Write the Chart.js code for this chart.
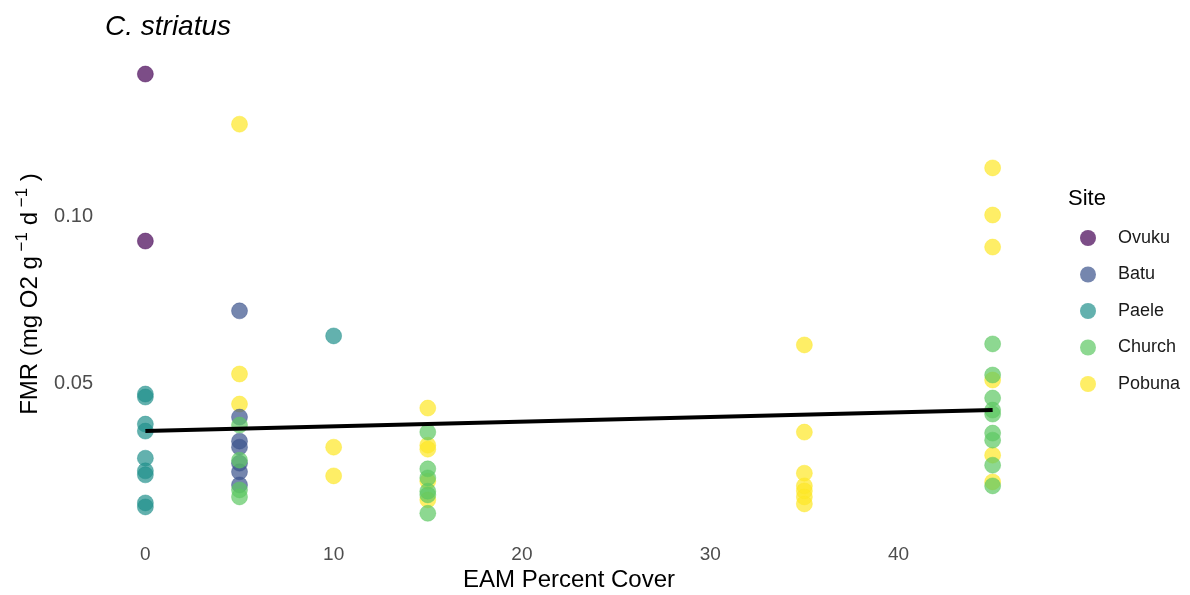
<!DOCTYPE html>
<html>
<head>
<meta charset="utf-8">
<title>C. striatus FMR vs EAM cover</title>
<script src="https://cdn.jsdelivr.net/npm/chart.js@4.4.1/dist/chart.umd.min.js"></script>
<style>
  html, body { margin: 0; padding: 0; background: #ffffff; }
  #wrap { width: 1190px; height: 595px; position: relative; }
</style>
</head>
<body>
<div id="wrap"><canvas id="chart" width="1190" height="595"></canvas></div>
<script>
// Sites in legend order
const sites = ["Ovuku", "Batu", "Paele", "Church", "Pobuna"];
const siteColors = ["rgba(68,1,84,0.7)", "rgba(59,82,139,0.7)", "rgba(33,144,140,0.7)", "rgba(93,200,99,0.7)", "rgba(253,231,37,0.7)"];

// EAM percent cover (x) and FMR (y) per site
const ovukuX = [0, 0];
const ovukuY = [0.1425, 0.0925];

const batuX = [5, 5, 5, 5, 5, 5, 5];
const batuY = [0.0716, 0.0398, 0.0326, 0.0308, 0.0260, 0.0234, 0.0195];

const paeleX = [0, 0, 0, 0, 0, 0, 0, 0, 0, 10];
const paeleY = [0.0467, 0.0458, 0.0377, 0.0356, 0.0275, 0.0237, 0.0225, 0.0141, 0.0129, 0.0641];

const churchX = [5, 5, 5, 5, 15, 15, 15, 15, 15, 15, 45, 45, 45, 45, 45, 45, 45, 45, 45];
const churchY = [0.0374, 0.0269, 0.0180, 0.0159,
                 0.0353, 0.0243, 0.0216, 0.0176, 0.0165, 0.0110,
                 0.0617, 0.0524, 0.0455, 0.0419, 0.0407, 0.0350, 0.0329, 0.0254, 0.0192];

const pobunaX = [5, 5, 5, 10, 10, 15, 15, 15, 15, 15, 35, 35, 35, 35, 35, 35, 35, 45, 45, 45, 45, 45, 45];
const pobunaY = [0.1275, 0.0527, 0.0437, 0.0308, 0.0222,
                 0.0425, 0.0314, 0.0302, 0.0206, 0.0150,
                 0.0614, 0.0353, 0.0230, 0.0192, 0.0177, 0.0159, 0.0138,
                 0.1144, 0.1003, 0.0907, 0.0509, 0.0284, 0.0204];

// Fitted linear trend (endpoints of the fit line)
const fitX = [0, 45];
const fitY = [0.0356, 0.0419];

// Axis ticks
const xTicks = [0, 10, 20, 30, 40];
const yTicks = [0.05, 0.10];
const yTickLabels = ["0.05", "0.10"];

const xs = [ovukuX, batuX, paeleX, churchX, pobunaX];
const ys = [ovukuY, batuY, paeleY, churchY, pobunaY];
// Stacking order of the point layers (lower = drawn on top)
const layerOrder = [4, 3, 2, 1, 5];

const pts = (X, Y) => X.map((x, i) => ({ x: x, y: Y[i] }));

const datasets = [{
  type: "line",
  label: "fit",
  data: pts(fitX, fitY),
  borderColor: "#000000",
  borderWidth: 4,
  pointRadius: 0,
  fill: false,
  order: 0
}];
sites.forEach((s, i) => {
  datasets.push({
    type: "scatter",
    label: s,
    data: pts(xs[i], ys[i]),
    backgroundColor: siteColors[i],
    borderColor: siteColors[i],
    borderWidth: 0.6,
    pointRadius: 8,
    order: layerOrder[i]
  });
});

const FONT = "'Liberation Sans', Arial, sans-serif";

// Titles, axis titles and the site legend
const decor = {
  id: "decor",
  afterDraw(chart) {
    const ctx = chart.ctx;
    const a = chart.chartArea;
    ctx.save();
    ctx.fillStyle = "#000000";

    // Plot title
    ctx.font = "italic 28px " + FONT;
    ctx.textAlign = "left";
    ctx.textBaseline = "alphabetic";
    ctx.fillText("C. striatus", 105, 35);

    // X axis title
    ctx.font = "24px " + FONT;
    ctx.textAlign = "center";
    ctx.textBaseline = "middle";
    ctx.fillText("EAM Percent Cover", (a.left + a.right) / 2, 580);

    // Y axis title with superscripts, rotated
    const parts = [
      ["FMR (mg O2 g", false], [" \u22121", true], [" d", false], [" \u22121", true], [" )", false]
    ];
    const big = "24px " + FONT, small = "17px " + FONT;
    let total = 0;
    parts.forEach(p => { ctx.font = p[1] ? small : big; total += ctx.measureText(p[0]).width; });
    ctx.translate(28, (a.top + a.bottom) / 2);
    ctx.rotate(-Math.PI / 2);
    ctx.textAlign = "left";
    ctx.textBaseline = "alphabetic";
    let cx = -total / 2;
    parts.forEach(p => {
      ctx.font = p[1] ? small : big;
      ctx.fillText(p[0], cx, p[1] ? -1 : 9);
      cx += ctx.measureText(p[0]).width;
    });
    ctx.setTransform(1, 0, 0, 1, 0, 0);

    // Legend
    ctx.textAlign = "left";
    ctx.textBaseline = "middle";
    ctx.font = "22px " + FONT;
    ctx.fillStyle = "#000000";
    ctx.fillText("Site", 1068, 199);
    ctx.font = "18px " + FONT;
    sites.forEach((s, i) => {
      const y = 238 + i * 36.5;
      ctx.beginPath();
      ctx.arc(1088, y, 8, 0, Math.PI * 2);
      ctx.fillStyle = siteColors[i];
      ctx.fill();
      ctx.fillStyle = "#1a1a1a";
      ctx.fillText(s, 1118, y);
    });
    ctx.restore();
  }
};

new Chart(document.getElementById("chart"), {
  data: { datasets: datasets },
  options: {
    responsive: false,
    animation: false,
    layout: { padding: { top: 52, right: 155, left: 0, bottom: 0 } },
    plugins: { legend: { display: false }, tooltip: { enabled: false } },
    scales: {
      x: {
        type: "linear",
        min: -2.25,
        max: 47.25,
        grid: { display: false, drawTicks: false },
        border: { display: false },
        afterBuildTicks: (s) => { s.ticks = xTicks.map(v => ({ value: v })); },
        afterFit: (s) => { s.height = 59; },
        ticks: {
          padding: 7,
          color: "#4d4d4d",
          font: { family: FONT, size: 19 },
          callback: (v) => String(v)
        }
      },
      y: {
        type: "linear",
        min: 0.0042,
        max: 0.1491,
        grid: { display: false, drawTicks: false },
        border: { display: false },
        afterBuildTicks: (s) => { s.ticks = yTicks.map(v => ({ value: v })); },
        afterFit: (s) => { s.width = 103; },
        ticks: {
          padding: 10,
          color: "#4d4d4d",
          font: { family: FONT, size: 20 },
          callback: (v) => { const i = yTicks.indexOf(v); return i >= 0 ? yTickLabels[i] : ""; }
        }
      }
    }
  },
  plugins: [decor]
});
</script>
</body>
</html>
